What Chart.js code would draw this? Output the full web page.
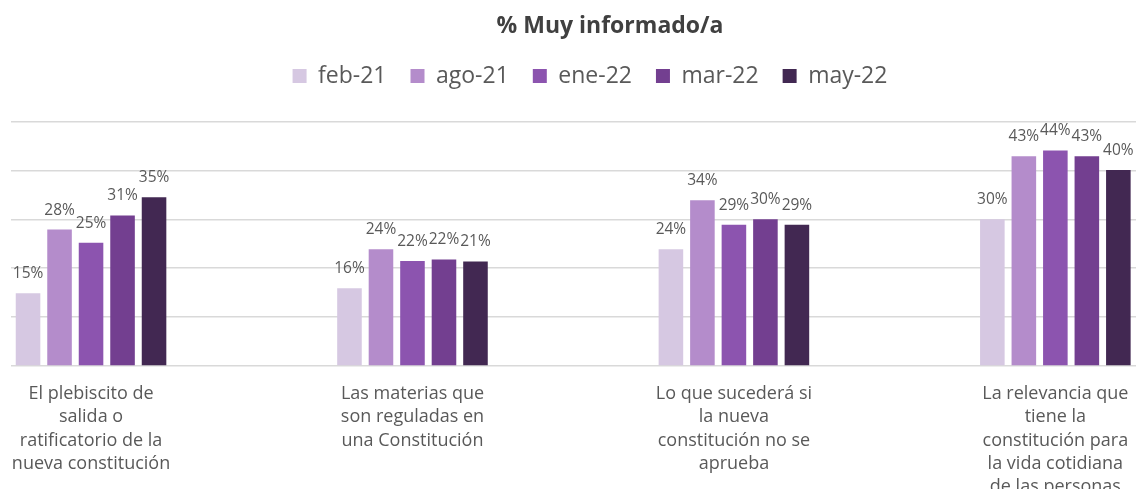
<!DOCTYPE html>
<html>
<head>
<meta charset="utf-8">
<script src="https://cdn.jsdelivr.net/npm/chart.js@4"></script>
<style>
  html, body { margin: 0; padding: 0; background: #fff; overflow: hidden; }
  #wrap { position: relative; width: 1209px; height: 515px; }
</style>
</head>
<body>
<div id="wrap"><canvas id="infoChart"></canvas></div>
<script>
const groupLabels = [
    ['El plebiscito de', 'salida o', 'ratificatorio de la', 'nueva constitución'],
    ['Las materias que', 'son reguladas en', 'una Constitución'],
    ['Lo que sucederá si', 'la nueva', 'constitución no se', 'aprueba'],
    ['La relevancia que', 'tiene la', 'constitución para', 'la vida cotidiana', 'de las personas']
];
const seriesNames = ['feb-21', 'ago-21', 'ene-22', 'mar-22', 'may-22'];
const feb21 = [14.9, 15.9, 23.9, 30.0];
const ago21 = [27.9, 23.9, 33.9, 42.9];
const ene22 = [25.2, 21.5, 28.9, 44.1];
const mar22 = [30.8, 21.8, 30.0, 42.9];
const may22 = [34.5, 21.4, 28.9, 40.1];
const yTicks = [0, 10, 20, 30, 40, 50];

const seriesValues = [feb21, ago21, ene22, mar22, may22];
const colors = ['#d6c8e2', '#b48ccb', '#8c54af', '#733f90', '#422852'];

const FONT = '"Open Sans", "Liberation Sans", sans-serif';

// value labels above every bar
const barLabels = {
    id: 'barLabels',
    afterDatasetsDraw(chart) {
        const ctx = chart.ctx;
        ctx.save();
        ctx.font = '15.5px ' + FONT;
        ctx.fillStyle = '#595959';
        ctx.textAlign = 'center';
        ctx.textBaseline = 'alphabetic';
        chart.data.datasets.forEach((ds, i) => {
            chart.getDatasetMeta(i).data.forEach((bar, j) => {
                ctx.fillText(Math.round(ds.data[j].y) + '%', bar.x, bar.y - 15);
            });
        });
        ctx.restore();
    }
};

// extra room under the legend, and nudge it a little left
const legendSpace = {
    id: 'legendSpace',
    beforeInit(chart) {
        const fit = chart.legend.fit;
        chart.legend.fit = function () {
            fit.bind(chart.legend)();
            this.height += 24;
        };
    },
    afterLayout(chart) {
        chart.legend.left -= 20;
        chart.legend.right -= 20;
    }
};

const ctx = document.getElementById('infoChart').getContext('2d');
new Chart(ctx, {
    type: 'bar',
    data: {
        datasets: seriesNames.map((name, i) => ({
            label: name,
            data: seriesValues[i].map((v, k) => ({ x: k, y: v })),
            backgroundColor: colors[i],
            borderWidth: 0,
            categoryPercentage: 0.49,
            barPercentage: 0.78
        }))
    },
    options: {
        responsive: true,
        maintainAspectRatio: false,
        animation: false,
        layout: { padding: { left: 11, right: 0, top: 0, bottom: 0 } },
        plugins: {
            title: {
                display: true,
                text: '% Muy informado/a',
                color: '#404040',
                font: { family: FONT, size: 23, weight: 'bold' },
                padding: { top: 13, bottom: 0 }
            },
            legend: {
                display: true,
                position: 'top',
                labels: {
                    color: '#595959',
                    font: { family: FONT, size: 23 },
                    boxWidth: 14,
                    boxHeight: 14,
                    padding: 24
                }
            },
            tooltip: { enabled: false }
        },
        scales: {
            x: {
                type: 'linear',
                min: -0.249,
                max: 3.478,
                offset: false,
                afterBuildTicks: s => { s.ticks = groupLabels.map((_, i) => ({ value: i })); },
                afterFit: s => { s.paddingLeft = 0; s.paddingRight = 0; },
                grid: { display: false, drawTicks: false },
                border: { display: false },
                ticks: {
                    autoSkip: false,
                    maxRotation: 0,
                    minRotation: 0,
                    padding: 16,
                    color: '#595959',
                    font: { family: FONT, size: 18, lineHeight: 1.3 },
                    callback: v => groupLabels[v]
                }
            },
            y: {
                min: 0,
                max: 50,
                afterBuildTicks: s => { s.ticks = yTicks.map(v => ({ value: v })); },
                afterFit: s => { s.width = 0; s.paddingTop = 0; s.paddingBottom = 0; },
                grid: { color: '#d9d9d9', lineWidth: 1.5, drawTicks: false },
                border: { display: false },
                ticks: { display: false }
            }
        }
    },
    plugins: [barLabels, legendSpace]
});
</script>
</body>
</html>
